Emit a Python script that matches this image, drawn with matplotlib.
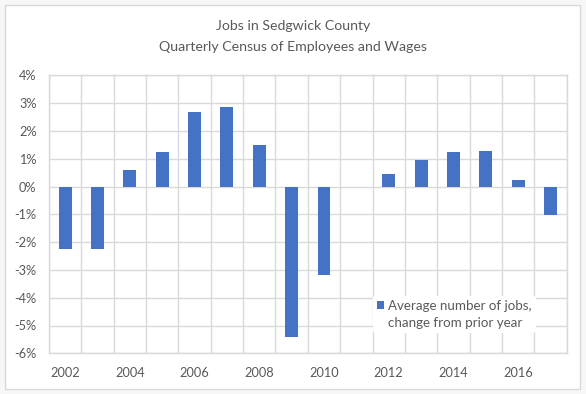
import matplotlib
matplotlib.use("Agg")
import matplotlib.pyplot as plt
import numpy as np
from matplotlib.patches import Rectangle
from matplotlib.ticker import FixedLocator, FuncFormatter

years = list(range(2002, 2018))
change_pct = [-2.24, -2.24, 0.59, 1.23, 2.67, 2.85, 1.49, -5.41,
              -3.19, 0.0, 0.44, 0.95, 1.23, 1.27, 0.23, -1.03]
title_lines = ["Jobs in Sedgwick County", "Quarterly Census of Employees and Wages"]
legend_label = "Average number of jobs,\nchange from prior year"

BAR = "#4472c4"
GRID = "#d9d9d9"
TEXT = "#595959"

plt.rcParams["font.family"] = ["Lato", "DejaVu Sans"]

W, H = 586, 394
fig = plt.figure(figsize=(W / 100, H / 100), dpi=100)
fig.patch.set_facecolor("#f7f7f7")
fig.patches.append(Rectangle((5 / W, 5 / H), 575 / W, 384 / H, transform=fig.transFigure,
                             facecolor="white", edgecolor=GRID, lw=1, zorder=-1))

ax = fig.add_axes([49 / W, (H - 353.3) / H, (566.7 - 49) / W, (353.3 - 75.3) / H])
ax.set_facecolor("none")

x = np.arange(len(years))
ax.bar(x, change_pct, width=0.4, color=BAR, zorder=3, label=legend_label)

ax.set_xlim(-0.5, len(years) - 0.5)
ax.set_ylim(-6, 4)
ax.yaxis.set_major_locator(FixedLocator(range(-6, 5)))
ax.yaxis.set_major_formatter(FuncFormatter(lambda v, p: f"{v:.0f}%"))
ax.set_xticks(x[::2])
ax.set_xticklabels([str(y) for y in years[::2]])
ax.set_xticks(np.arange(-0.5, len(years)), minor=True)

ax.grid(True, axis="y", which="major", color=GRID, lw=1, zorder=0)
ax.grid(True, axis="x", which="minor", color=GRID, lw=1, zorder=0)
ax.grid(False, axis="x", which="major")
for s in ax.spines.values():
    s.set_color(GRID)
    s.set_linewidth(1)

ax.tick_params(axis="both", which="both", length=0, labelsize=9.2, colors=TEXT)
ax.tick_params(axis="x", pad=10)
ax.tick_params(axis="y", pad=9)

fig.text(0.5, 1 - 26 / H, title_lines[0], ha="center", va="center", fontsize=10.2, color=TEXT)
fig.text(0.5, 1 - 47 / H, title_lines[1], ha="center", va="center", fontsize=10.2, color=TEXT)

leg = fig.legend(loc="upper left", bbox_to_anchor=(366 / W, 1 - 289 / H),
                 frameon=True, fontsize=9.6, handlelength=0.55, handleheight=0.55,
                 handletextpad=0.3, borderpad=0.3, labelcolor=TEXT)
leg.get_frame().set_facecolor("white")
leg.get_frame().set_edgecolor("none")
leg.get_frame().set_alpha(1)
leg.get_texts()[0].set_linespacing(1.5)
# marker sits beside the first line, like Excel
h = leg.legend_handles[0]
h.set_y(h.get_y() + 6.5)

fig.savefig("out.png", dpi=100, facecolor=fig.get_facecolor())
